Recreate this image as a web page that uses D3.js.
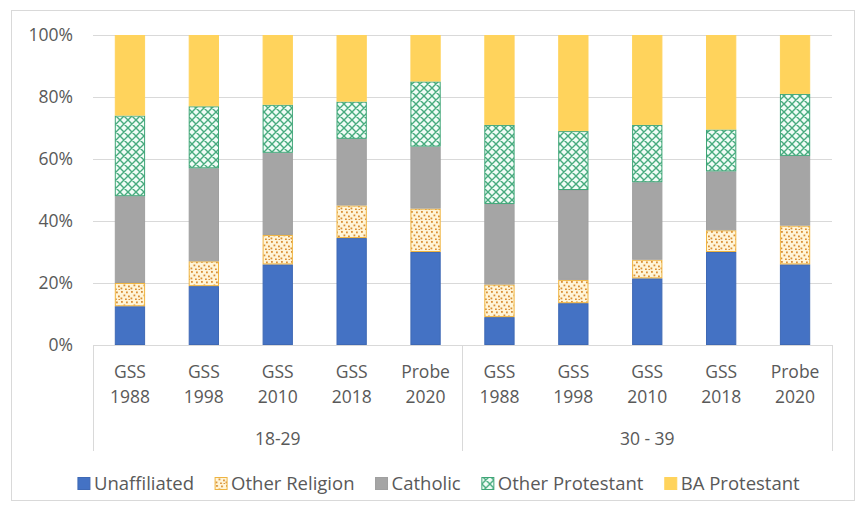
<!DOCTYPE html>
<html><head><meta charset="utf-8">
<script src="https://cdn.jsdelivr.net/npm/d3@7"></script>
<style>
body{margin:0;background:#fff}
svg{display:block;font-family:"Open Sans",sans-serif}
</style>
</head><body>
<svg id="chart" width="857" height="511"></svg>
<script>
/* ---------- data (percent) ---------- */
const groups   = ["18-29","30 - 39"];
const surveys  = ["GSS 1988","GSS 1998","GSS 2010","GSS 2018","Probe 2020"];
const seriesNames = ["Unaffiliated","Other Religion","Catholic","Other Protestant","BA Protestant"];

const unaffiliated    = [12.5, 19, 26,   34.5, 30,   9,    13.5, 21.5, 30,   26  ];
const otherReligion   = [7.5,  8,  9.5,  10.5, 14,   10.5, 7.5,  6,    7,    12.5];
const catholic        = [28,   30, 26.5, 21.5, 20,   26,   29,   25,   19,   22.5];
const otherProtestant = [26,   20, 15.5, 12,   21,   25.5, 19,   18.5, 13.5, 20  ];
const baProtestant    = [26,   23, 22.5, 21.5, 15,   29,   31,   29,   30.5, 19  ];

const yTicks = [0, .2, .4, .6, .8, 1];

/* ---------- table ---------- */
const cols = [unaffiliated, otherReligion, catholic, otherProtestant, baProtestant];
const rows = [];
groups.forEach((g,gi)=>surveys.forEach((s,si)=>{
  const i = gi*surveys.length+si;
  const r = {key:g+"|"+s, group:g, survey:s};
  seriesNames.forEach((n,k)=>r[n]=cols[k][i]);
  rows.push(r);
}));

/* ---------- layout ---------- */
const svg = d3.select("#chart");
const L=93, R=832, T=35, B=345;

const x = d3.scaleBand().domain(rows.map(d=>d.key)).range([L,R])
  .paddingInner(0.59).paddingOuter(0.295);
const y = d3.scaleLinear().domain([0,1]).range([B,T]);

const fills = {
  "Unaffiliated":"#4472c4",
  "Other Religion":"url(#confetti)",
  "Catholic":"#a5a5a5",
  "Other Protestant":"url(#lattice)",
  "BA Protestant":"#ffd35c"
};
const strokes = {
  "Unaffiliated":"#3f69b5",
  "Other Religion":"#efb441",
  "Catholic":"#a0a0a0",
  "Other Protestant":"#3fa577",
  "BA Protestant":"#ffd35c"
};

/* ---------- patterns ---------- */
const defs = svg.append("defs");
const conf = defs.append("pattern").attr("id","confetti")
  .attr("patternUnits","userSpaceOnUse").attr("width",10).attr("height",10);
conf.append("rect").attr("width",10).attr("height",10).attr("fill","#fff5d8");
[[1,1],[6,1.5],[3.5,4.5],[8,5.5],[0.5,7.5],[5,8.5],[8.5,9]].forEach(([a,b])=>
  conf.append("rect").attr("x",a).attr("y",b).attr("width",1.8).attr("height",1.8).attr("fill","#d98f35"));

const lat = defs.append("pattern").attr("id","lattice")
  .attr("patternUnits","userSpaceOnUse").attr("width",8).attr("height",8);
lat.append("rect").attr("width",8).attr("height",8).attr("fill","#f0fcf6");
lat.append("path").attr("d","M0,0L8,8M8,0L0,8M-1,7L1,9M7,-1L9,1M-1,1L1,-1M7,9L9,7")
  .attr("stroke","#47ab7e").attr("stroke-width",1.4).attr("fill","none");

/* ---------- chart border ---------- */
svg.append("rect").attr("x",11.5).attr("y",10.5).attr("width",843).attr("height",490)
  .attr("fill","#fff").attr("stroke","#d9d9d9");

/* ---------- grid + y axis ---------- */
svg.append("g").attr("transform",`translate(${L},0)`)
  .call(d3.axisLeft(y).tickValues(yTicks.slice(1)).tickSize(-(R-L)).tickFormat(""))
  .call(g=>g.select(".domain").remove())
  .call(g=>g.selectAll("line").attr("stroke","#d9d9d9"));

svg.append("g").attr("transform",`translate(${L},0)`)
  .call(d3.axisLeft(y).tickValues(yTicks).tickSize(0).tickPadding(20).tickFormat(d3.format(".0%")))
  .call(g=>g.select(".domain").remove())
  .call(g=>g.selectAll("text").attr("fill","#595959").style("font-size","17.5px").style("font-family","'Open Sans',sans-serif"));

/* ---------- bars ---------- */
const stack = d3.stack().keys(seriesNames).offset(d3.stackOffsetExpand);
const layers = stack(rows);

svg.append("g").selectAll("g").data(layers).join("g")
  .attr("fill",d=>fills[d.key]).attr("stroke",d=>strokes[d.key]).attr("stroke-width",1)
  .selectAll("rect").data(d=>d).join("rect")
  .attr("x",d=>x(d.data.key)+0.5).attr("width",x.bandwidth()-1)
  .attr("y",d=>y(d[1])+0.5).attr("height",d=>y(d[0])-y(d[1])-1);

/* ---------- category axis ---------- */
svg.append("line").attr("x1",L).attr("x2",R).attr("y1",B+0.5).attr("y2",B+0.5)
  .attr("stroke","#d9d9d9");

const half = (x.step()-x.bandwidth())/2;
const bounds = groups.map(g=>{
  const ks = rows.filter(r=>r.group===g).map(r=>r.key);
  return {g, x0:x(ks[0])-half, x1:x(ks[ks.length-1])+x.bandwidth()+half};
});
const seps = [bounds[0].x0, ...bounds.map(b=>b.x1)];
svg.append("g").selectAll("line").data(seps).join("line")
  .attr("x1",d=>Math.round(d)+0.5).attr("x2",d=>Math.round(d)+0.5)
  .attr("y1",B).attr("y2",451).attr("stroke","#d9d9d9");

const lab = svg.append("g").attr("fill","#595959").style("font-size","17.5px")
  .attr("text-anchor","middle");
lab.selectAll("text.cat").data(rows).join("text").attr("class","cat")
  .attr("x",d=>x(d.key)+x.bandwidth()/2).attr("y",378)
  .each(function(d){
    const parts = d.survey.split(" ");
    const t = d3.select(this);
    t.append("tspan").attr("x",x(d.key)+x.bandwidth()/2).text(parts[0]);
    t.append("tspan").attr("x",x(d.key)+x.bandwidth()/2).attr("dy",25).text(parts[1]);
  });
lab.selectAll("text.grp").data(bounds).join("text").attr("class","grp")
  .attr("x",d=>(d.x0+d.x1)/2).attr("y",445).text(d=>d.g);

/* ---------- legend ---------- */
const leg = svg.append("g").style("font-size","18.5px").attr("fill","#595959");
const items = leg.selectAll("g").data(seriesNames).join("g");
items.append("rect").attr("width",12).attr("height",12).attr("y",-6.5)
  .attr("fill",d=>fills[d]).attr("stroke",d=>strokes[d]);
items.append("text").attr("x",16).attr("dy","0.35em").text(d=>d);
const gap = 21;
let cx = 0; const pos=[];
items.each(function(){ pos.push(cx); cx += this.getBBox().width + gap; });
const total = cx-gap, start = 439 - total/2;
items.attr("transform",(d,i)=>`translate(${start+pos[i]},484)`);
</script>
</body></html>
